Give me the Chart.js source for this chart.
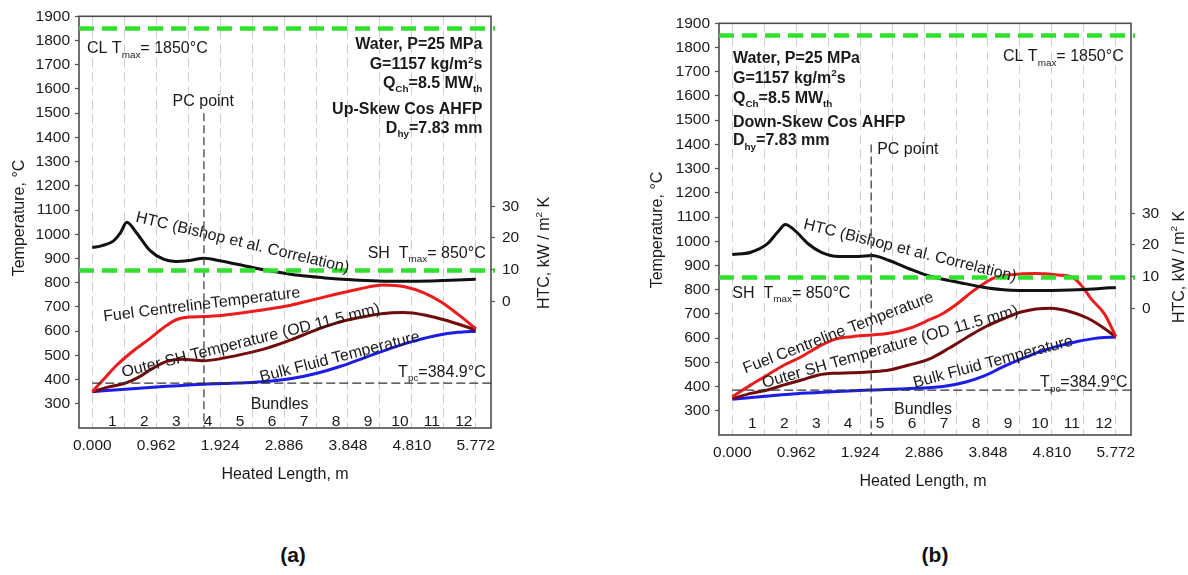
<!DOCTYPE html>
<html lang="en">
<head>
<meta charset="utf-8">
<title>Fuel, sheath and coolant temperatures with HTC along the heated length</title>
<script src="https://cdn.jsdelivr.net/npm/chart.js@4.4.1/dist/chart.umd.min.js"></script>
<style>
  html, body { margin: 0; padding: 0; background: #fff; }
  body { width: 1188px; height: 575px; position: relative; overflow: hidden; }
  canvas { position: absolute; }
  #chartA { left: 0; top: 0; }
  #chartB { left: 640px; top: 7px; }
  .caption { position: absolute; top: 543px; line-height: 26px; font: bold 21px "Liberation Sans", Arial, sans-serif; color: #111; transform: translateX(-50%); }
</style>
</head>
<body>
<canvas id="chartA" width="600" height="500"></canvas>
<canvas id="chartB" width="548" height="500"></canvas>
<div class="caption" style="left:293px">(a)</div>
<div class="caption" style="left:935px">(b)</div>
<script>
// ---- Channel geometry and axis ticks ----
const bundleLength = 0.481;                       // m per fuel bundle
const bundleNumbers = ['1', '2', '3', '4', '5', '6', '7', '8', '9', '10', '11', '12'];
const lengthTicks = [0, 0.962, 1.924, 2.886, 3.848, 4.810, 5.772];
const temperatureTicks = [300, 400, 500, 600, 700, 800, 900, 1000, 1100, 1200, 1300, 1400, 1500, 1600, 1700, 1800, 1900];
const htcTicks = [0, 10, 20, 30];

// ---- Design limits ----
const centrelineLimit = 1850;   // fuel centreline Tmax, deg C
const sheathLimit = 850;        // sheath Tmax, deg C
const pseudocriticalT = 384.9;  // Tpc at 25 MPa, deg C
const pcPointUp = 1.68;         // m, where bulk fluid reaches Tpc (up-skew)
const pcPointDown = 2.09;       // m, where bulk fluid reaches Tpc (down-skew)

// ---- (a) Up-skew cosine axial heat flux profile ----
const upFuelLength = [0, 0.2, 0.37, 0.6, 0.87, 1.1, 1.27, 1.45, 1.68, 2.0, 2.3, 2.63, 3.0, 3.3, 3.63, 4.0, 4.38, 4.7, 5.0, 5.25, 5.5, 5.772];
const upFuelTemp   = [350, 410, 460, 515, 570, 620, 648, 658, 660, 667, 677, 690, 708, 728, 750, 773, 790, 783, 757, 720, 670, 610];
const upSheathLength = [0, 0.25, 0.5, 0.7, 0.9, 1.12, 1.35, 1.68, 2.0, 2.3, 2.63, 3.0, 3.3, 3.63, 4.0, 4.35, 4.68, 5.0, 5.38, 5.772];
const upSheathTemp   = [350, 370, 385, 410, 445, 475, 484, 478, 490, 507, 530, 565, 598, 630, 655, 672, 677, 667, 640, 605];
const upBulkLength = [0, 0.5, 1.12, 1.68, 2.2, 2.63, 3.0, 3.38, 3.75, 4.13, 4.5, 4.88, 5.2, 5.5, 5.772];
const upBulkTemp   = [350, 360, 372, 381, 386, 392, 404, 426, 456, 494, 530, 562, 583, 595, 600];
const upHtcLength = [0, 0.15, 0.32, 0.42, 0.52, 0.67, 0.87, 1.07, 1.25, 1.45, 1.68, 1.9, 2.2, 2.5, 2.8, 3.1, 3.5, 3.9, 4.3, 4.7, 5.1, 5.5, 5.772];
const upHtc       = [17.0, 17.6, 19.1, 21.5, 25.0, 21.5, 16.0, 13.3, 12.6, 12.9, 13.6, 12.9, 11.6, 10.3, 9.2, 8.2, 7.4, 6.8, 6.4, 6.3, 6.4, 6.7, 7.0];

// ---- (b) Down-skew cosine axial heat flux profile ----
const downFuelLength = [0, 0.28, 0.53, 0.78, 1.04, 1.3, 1.54, 1.8, 2.1, 2.36, 2.66, 2.96, 3.17, 3.4, 3.6, 3.8, 3.95, 4.2, 4.55, 4.9, 5.13, 5.27, 5.4, 5.6, 5.772];
const downFuelTemp   = [358, 407, 448, 489, 523, 565, 595, 606, 613, 620, 640, 675, 702, 745, 790, 828, 850, 862, 867, 861, 850, 812, 762, 700, 606];
const downSheathLength = [0, 0.28, 0.53, 0.78, 1.04, 1.3, 1.54, 1.8, 2.1, 2.36, 2.66, 2.96, 3.26, 3.57, 3.81, 4.08, 4.36, 4.79, 5.1, 5.35, 5.6, 5.772];
const downSheathTemp   = [350, 372, 386, 407, 427, 448, 455, 457, 461, 468, 489, 513, 558, 610, 647, 680, 709, 723, 708, 682, 640, 605];
const downBulkLength = [0, 0.5, 1.04, 1.5, 2.1, 2.6, 3.17, 3.53, 3.8, 4.08, 4.35, 4.63, 4.9, 5.18, 5.46, 5.772];
const downBulkTemp   = [348, 360, 372, 379, 386, 391, 400, 420, 445, 482, 514, 544, 567, 585, 599, 605];
const downHtcLength = [0, 0.28, 0.53, 0.68, 0.8, 0.94, 1.14, 1.34, 1.6, 1.9, 2.1, 2.36, 2.66, 2.96, 3.17, 3.5, 3.82, 4.08, 4.58, 5.09, 5.5, 5.772];
const downHtc       = [17.0, 17.7, 20.4, 24.0, 26.5, 24.6, 20.4, 17.7, 16.4, 16.4, 16.7, 15.1, 12.5, 10.2, 9.2, 7.8, 6.5, 5.9, 5.6, 5.8, 6.2, 6.6];

// ---- Drawing helpers ----
const FONT = '"Liberation Sans", Arial, Helvetica, sans-serif';
const boundaries = bundleNumbers.map((_, k) => +(k * bundleLength).toFixed(3)).concat(+(bundleNumbers.length * bundleLength).toFixed(3));
const pairs = (xs, ys) => xs.map((x, i) => ({ x, y: ys[i] }));

// Text with sub/superscript runs; y is the visual middle of the capitals
function drawRich(ctx, parts, x, y, o) {
  const size = o.size || 16;
  const weight = o.bold ? 'bold ' : '';
  const small = size * 0.62;
  const segs = parts.map(p => Array.isArray(p) ? { t: p[0], k: p[1] } : { t: p, k: '' });
  ctx.save();
  ctx.translate(x, y);
  ctx.rotate((o.rot || 0) * Math.PI / 180);
  ctx.fillStyle = '#1a1a1a';
  ctx.textBaseline = 'alphabetic';
  let w = 0;
  for (const s of segs) {
    ctx.font = weight + (s.k ? small : size) + 'px ' + FONT;
    s.w = ctx.measureText(s.t).width;
    w += s.w;
  }
  let cx = o.align === 'right' ? -w : (o.align === 'left' ? 0 : -w / 2);
  const base = size * 0.36;
  for (const s of segs) {
    ctx.font = weight + (s.k ? small : size) + 'px ' + FONT;
    const dy = s.k === 'sub' ? size * 0.28 : (s.k === 'sup' ? -size * 0.42 : 0);
    ctx.fillText(s.t, cx, base + dy);
    cx += s.w;
  }
  ctx.restore();
}

function notesPlugin(panel) {
  return {
    id: 'notes',
    beforeDatasetsDraw(chart) {
      const { ctx, chartArea: a } = chart;
      ctx.save();
      ctx.strokeStyle = '#4d4d4d';
      ctx.lineWidth = 1.6;
      ctx.strokeRect(a.left, a.top, a.right - a.left, a.bottom - a.top);
      ctx.restore();
    },
    afterDraw(chart) {
      const { ctx } = chart;
      const xs = chart.scales.x, ys = chart.scales.y;
      for (const n of panel.labels) {
        const px = n.px ? n.px[0] : xs.getPixelForValue(n.at[0]);
        const py = n.px ? n.px[1] : ys.getPixelForValue(n.at[1]);
        drawRich(ctx, n.parts, px, py, n);
      }
      bundleNumbers.forEach((num, i) => {
        drawRich(ctx, [num], xs.getPixelForValue((i + 0.5) * bundleLength + 0.06), ys.getPixelForValue(panel.numbersAt), { size: 15.5 });
      });
    }
  };
}

const curve = { pointRadius: 0, borderWidth: 3, fill: false, cubicInterpolationMode: 'monotone' };
const limitLine = value => ({
  data: [{ x: -0.2, y: value }, { x: 6.06, y: value }],
  borderColor: '#2fe02f', borderWidth: 4.5, borderDash: [15, 8], pointRadius: 0, clip: 6
});
const guide = { borderColor: '#333', borderWidth: 1.2, borderDash: [8, 4], pointRadius: 0 };
const tickFont = { family: FONT, size: 15.5 };
const plainNumber = v => String(v);

function makeChart(panel) {
  const canvas = document.getElementById(panel.canvas);
  const rightWidth = canvas.width - 491;
  return new Chart(canvas, {
    type: 'line',
    data: {
      datasets: [
        limitLine(centrelineLimit),
        limitLine(sheathLimit),
        { ...guide, data: [{ x: panel.pcPoint, y: panel.pcTop }, { x: panel.pcPoint, y: 200 }] },
        { ...guide, borderDash: [9, 4], data: [{ x: 0, y: pseudocriticalT }, { x: 6, y: pseudocriticalT }] },
        { ...curve, label: 'HTC (Bishop et al.)', yAxisID: 'y1', borderColor: '#111', data: pairs(panel.htc[0], panel.htc[1]) },
        { ...curve, label: 'Fuel centreline', borderColor: '#ec1c1c', data: pairs(panel.fuel[0], panel.fuel[1]) },
        { ...curve, label: 'Outer sheath', borderColor: '#720b0b', data: pairs(panel.sheath[0], panel.sheath[1]) },
        { ...curve, label: 'Bulk fluid', borderColor: '#1d1de8', data: pairs(panel.bulk[0], panel.bulk[1]) }
      ]
    },
    options: {
      responsive: false,
      animation: false,
      devicePixelRatio: 1,
      layout: { padding: { top: 16, left: 0, right: 0, bottom: 0 } },
      plugins: { legend: { display: false }, tooltip: { enabled: false } },
      scales: {
        x: {
          type: 'linear', min: -0.2, max: 6.0,
          afterBuildTicks: s => { s.ticks = boundaries.map(v => ({ value: v })); },
          afterFit: s => { s.height = 72; },
          ticks: {
            autoSkip: false, maxRotation: 0, minRotation: 0, padding: 8, color: '#1a1a1a', font: tickFont,
            callback: v => { const t = lengthTicks.find(l => Math.abs(l - v) < 1e-6); return t === undefined ? '' : t.toFixed(3); }
          },
          grid: { color: '#cdcdcd', lineWidth: 1, drawTicks: false },
          border: { display: false, dash: [9, 5] }
        },
        y: {
          type: 'linear', position: 'left', min: 200, max: 1900,
          afterBuildTicks: s => { s.ticks = temperatureTicks.map(v => ({ value: v })); },
          afterFit: s => { s.width = 79; },
          ticks: { padding: 5, color: '#1a1a1a', font: tickFont, callback: plainNumber },
          grid: { drawOnChartArea: false, drawTicks: true, tickLength: 4, tickColor: '#555', tickWidth: 1.2 },
          border: { display: false }
        },
        y1: {
          type: 'linear', position: 'right', min: -40, max: 90,
          afterBuildTicks: s => { s.ticks = htcTicks.map(v => ({ value: v })); },
          afterFit: s => { s.width = rightWidth; },
          ticks: { padding: 7, color: '#1a1a1a', font: tickFont, callback: plainNumber },
          grid: { drawOnChartArea: false, drawTicks: true, tickLength: 4, tickColor: '#555', tickWidth: 1.2 },
          border: { display: false }
        }
      }
    },
    plugins: [notesPlugin(panel)]
  });
}

const sub = t => [t, 'sub'];
const sup = t => [t, 'sup'];

makeChart({
  canvas: 'chartA',
  pcPoint: pcPointUp, pcTop: 1500,
  fuel: [upFuelLength, upFuelTemp], sheath: [upSheathLength, upSheathTemp],
  bulk: [upBulkLength, upBulkTemp], htc: [upHtcLength, upHtc],
  numbersAt: 233,
  labels: [
    { at: [-0.08, 1772], align: 'left', parts: ['CL T', sub('max'), '= ' + centrelineLimit + '°C'] },
    { at: [5.87, 1787], align: 'right', bold: true, parts: ['Water, P=25 MPa'] },
    { at: [5.87, 1705], align: 'right', bold: true, parts: ['G=1157 kg/m', sup('2'), 's'] },
    { at: [5.87, 1629], align: 'right', bold: true, parts: ['Q', sub('Ch'), '=8.5 MW', sub('th')] },
    { at: [5.87, 1519], align: 'right', bold: true, parts: ['Up-Skew Cos AHFP'] },
    { at: [5.87, 1443], align: 'right', bold: true, parts: ['D', sub('hy'), '=7.83 mm'] },
    { at: [1.67, 1553], parts: ['PC point'] },
    { at: [2.265, 970], rot: 13.5, parts: ['HTC (Bishop et al. Correlation)'] },
    { at: [5.92, 927], align: 'right', parts: ['SH  T', sub('max'), '= ' + sheathLimit + '°C'] },
    { at: [1.645, 714], rot: -7, parts: ['Fuel CentrelineTemperature'] },
    { at: [2.38, 565], rot: -14, parts: ['Outer SH Temperature (OD 11.5 mm)'] },
    { at: [3.72, 498], rot: -14.5, parts: ['Bulk Fluid Temperature'] },
    { at: [5.92, 436], align: 'right', parts: ['T', sub('pc'), '=' + pseudocriticalT + '°C'] },
    { at: [2.82, 303], parts: ['Bundles'] },
    { px: [18, 218], rot: -90, parts: ['Temperature, °C'] },
    { px: [543, 253], rot: -90, parts: ['HTC, kW / m', sup('2'), ' K'] },
    { px: [285, 473], parts: ['Heated Length, m'] }
  ]
});

makeChart({
  canvas: 'chartB',
  pcPoint: pcPointDown, pcTop: 1400,
  fuel: [downFuelLength, downFuelTemp], sheath: [downSheathLength, downSheathTemp],
  bulk: [downBulkLength, downBulkTemp], htc: [downHtcLength, downHtc],
  numbersAt: 251,
  labels: [
    { at: [0.01, 1761], align: 'left', bold: true, parts: ['Water, P=25 MPa'] },
    { at: [0.01, 1678], align: 'left', bold: true, parts: ['G=1157 kg/m', sup('2'), 's'] },
    { at: [0.01, 1596], align: 'left', bold: true, parts: ['Q', sub('Ch'), '=8.5 MW', sub('th')] },
    { at: [0.01, 1497], align: 'left', bold: true, parts: ['Down-Skew Cos AHFP'] },
    { at: [0.01, 1420], align: 'left', bold: true, parts: ['D', sub('hy'), '=7.83 mm'] },
    { at: [5.89, 1768], align: 'right', parts: ['CL T', sub('max'), '= ' + centrelineLimit + '°C'] },
    { at: [2.18, 1383], align: 'left', parts: ['PC point'] },
    { at: [2.68, 966], rot: 14, parts: ['HTC (Bishop et al. Correlation)'] },
    { at: [0.0, 791], align: 'left', parts: ['SH  T', sub('max'), '= ' + sheathLimit + '°C'] },
    { at: [1.59, 626], rot: -21, parts: ['Fuel Centreline Temperature'] },
    { at: [2.37, 568], rot: -16, parts: ['Outer SH Temperature (OD 11.5 mm)'] },
    { at: [3.92, 506], rot: -15, parts: ['Bulk Fluid Temperature'] },
    { at: [5.95, 420], align: 'right', parts: ['T', sub('pc'), '=' + pseudocriticalT + '°C'] },
    { at: [2.87, 310], parts: ['Bundles'] },
    { px: [16, 223], rot: -90, parts: ['Temperature, °C'] },
    { px: [538, 260], rot: -90, parts: ['HTC, kW / m', sup('2'), ' K'] },
    { px: [283, 473], parts: ['Heated Length, m'] }
  ]
});
</script>
</body>
</html>
